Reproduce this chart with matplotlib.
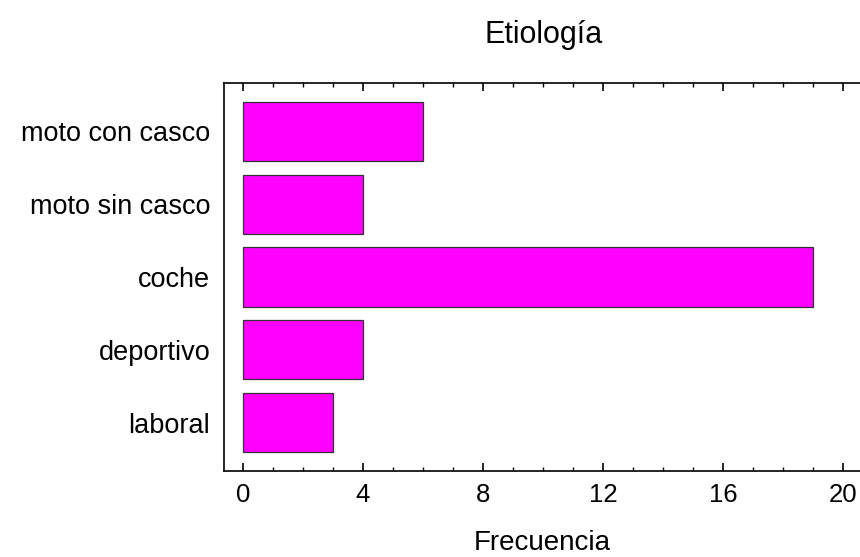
import matplotlib
matplotlib.use("Agg")
import matplotlib.pyplot as plt
from matplotlib.ticker import MultipleLocator

plt.rcParams['font.family'] = ['Liberation Sans', 'DejaVu Sans']

categorias = ["moto con casco", "moto sin casco", "coche", "deportivo", "laboral"]
frecuencias = [6, 4, 19, 4, 3]

fig = plt.figure(figsize=(8.6, 5.57), dpi=100)
ax = fig.add_axes([0.2605, 0.1544, 0.7395, 0.6966])

pos = list(range(len(categorias)))[::-1]
ax.barh(pos, frecuencias, height=0.81, color="#ff00ff", edgecolor="#333333", linewidth=0.9)

ax.set_xlim(-0.63, 20.57)
ax.set_ylim(-0.66, 4.66)
ax.set_yticks(pos)
ax.set_yticklabels(categorias, fontsize=19.5)
ax.tick_params(axis='y', length=0, pad=10)

ax.xaxis.set_major_locator(MultipleLocator(4))
ax.xaxis.set_minor_locator(MultipleLocator(1))
ax.tick_params(axis='x', which='major', direction='in', length=6, width=1.2,
               top=True, labelsize=18.5, pad=9)
ax.tick_params(axis='x', which='minor', direction='in', length=3, width=1, top=True)

ax.spines['right'].set_visible(False)
for s in ['left', 'top', 'bottom']:
    ax.spines[s].set_linewidth(1.2)

ax.set_xlabel("Frecuencia", fontsize=20, labelpad=16)
fig.text(0.632, 0.937, "Etiología", fontsize=22, ha='center', va='center')

fig.savefig("out.png", dpi=100)
